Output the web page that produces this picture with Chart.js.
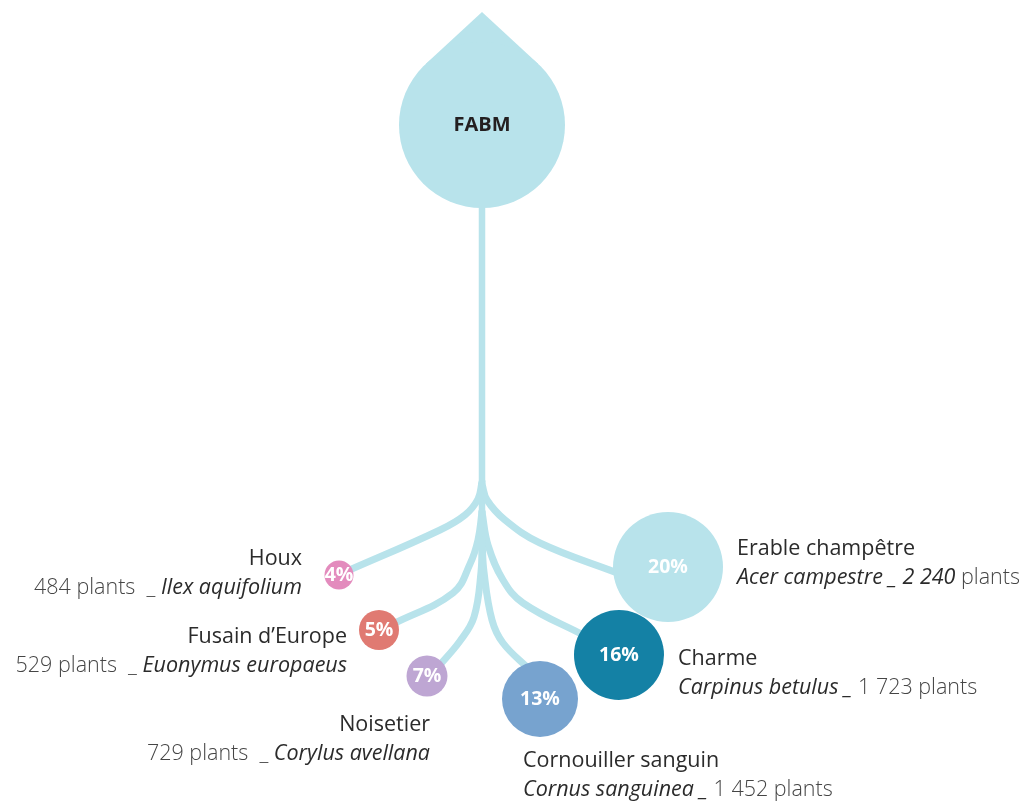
<!DOCTYPE html>
<html>
<head>
<meta charset="utf-8">
<script src="https://cdn.jsdelivr.net/npm/chart.js@4.4.0/dist/chart.umd.min.js"></script>
<style>
  html, body { margin: 0; padding: 0; background: #ffffff; }
  #wrap { width: 1027px; height: 803px; position: relative; }
</style>
</head>
<body>
<div id="wrap"><canvas id="c"></canvas></div>
<script>
// ---------- DATA ----------
const rootLabel = 'FABM';
const species  = ['Houx', 'Fusain d\u2019Europe', 'Noisetier', 'Cornouiller sanguin', 'Charme', 'Erable champêtre'];
const latin    = ['Ilex aquifolium', 'Euonymus europaeus', 'Corylus avellana', 'Cornus sanguinea', 'Carpinus betulus', 'Acer campestre'];
const plants   = [484, 529, 729, 1452, 1723, 2240];
const percents = [4, 5, 7, 13, 16, 20];

// ---------- LAYOUT (positions, sizes, styles) ----------
const W = 1027, H = 803;
const stemColor = '#b8e3eb';
const dropLayout = { x: 482, y: 125, r: 83, tipY: 12 };
const stemPath = [{x: 482, y: 200}, {x: 482, y: 545}];
const bubbleLayout = [
  { x: 339, y: 575, r: 14.5, color: '#e38bbd' },
  { x: 379, y: 630, r: 20,   color: '#e07a72' },
  { x: 427, y: 676, r: 20.5, color: '#bea6d3' },
  { x: 540, y: 699, r: 38,   color: '#77a3cf' },
  { x: 619, y: 655, r: 45,   color: '#1481a5' },
  { x: 668, y: 567, r: 55,   color: '#b8e3eb' }
];
const branchPaths = [
  [{x:482,y:482},{x:478,y:499},{x:465,y:515},{x:440,y:530},{x:345,y:572}],
  [{x:482,y:512},{x:478,y:540},{x:470,y:564},{x:453,y:593},{x:393,y:624}],
  [{x:482,y:540},{x:481,y:572},{x:474,y:617},{x:460,y:641},{x:438,y:667}],
  [{x:482,y:540},{x:484,y:572},{x:492,y:620},{x:503,y:643},{x:530,y:670}],
  [{x:482,y:512},{x:488,y:545},{x:503,y:580},{x:523,y:603},{x:585,y:636}],
  [{x:482,y:484},{x:487,y:500},{x:505,y:520},{x:540,y:543},{x:620,y:574}]
];
// label anchors: side 'L' = right-aligned at x, 'R' = left-aligned at x
const labelLayout = [
  { side: 'L', x: 302, y1: 559, y2: 588 },
  { side: 'L', x: 347, y1: 637, y2: 666 },
  { side: 'L', x: 430, y1: 725, y2: 754 },
  { side: 'R', x: 523, y1: 761, y2: 790 },
  { side: 'R', x: 678, y1: 659, y2: 688 },
  { side: 'R', x: 737, y1: 549, y2: 578 }
];
const FONT = '"Open Sans", Lato, sans-serif';
const TXT = 21.5;
const nameColor = '#2b2b2b';
const lightColor = '#454545';

function fmt(n) { return String(n).replace(/\B(?=(\d{3})+(?!\d))/g, ' '); }

// ---------- DATASETS ----------
const datasets = [];
datasets.push({
  type: 'bubble',
  label: 'species',
  data: bubbleLayout.map((b, i) => ({ x: b.x, y: b.y, r: b.r, v: percents[i] })),
  backgroundColor: bubbleLayout.map(b => b.color),
  borderWidth: 0,
  hoverRadius: 0,
  clip: false,
  order: 0
});
datasets.push({
  type: 'bubble',
  label: 'root',
  data: [{ x: dropLayout.x, y: dropLayout.y, r: dropLayout.r }],
  backgroundColor: stemColor,
  borderWidth: 0,
  hoverRadius: 0,
  clip: false,
  order: 1
});
branchPaths.forEach((p, i) => {
  datasets.push({
    type: 'line',
    label: 'branch ' + species[i],
    data: p,
    borderColor: stemColor,
    borderWidth: 7,
    tension: 0.4,
    pointRadius: 0,
    fill: false,
    clip: false,
    borderCapStyle: 'round',
    order: 2
  });
});
datasets.push({
  type: 'line',
  label: 'stem',
  data: stemPath,
  borderColor: stemColor,
  borderWidth: 6.5,
  pointRadius: 0,
  fill: false,
  clip: false,
  order: 2
});

// ---------- PLUGINS ----------
const dropTip = {
  id: 'dropTip',
  beforeDatasetsDraw(chart) {
    const { ctx, scales: { x, y } } = chart;
    const cx = x.getPixelForValue(dropLayout.x), cy = y.getPixelForValue(dropLayout.y);
    const tx = cx, ty = y.getPixelForValue(dropLayout.tipY);
    const d = cy - ty, r = dropLayout.r;
    const th = Math.acos(r / d);
    const lx = cx - r * Math.sin(th), rx = cx + r * Math.sin(th), ly = cy - r * Math.cos(th);
    ctx.save();
    ctx.fillStyle = stemColor;
    ctx.beginPath();
    ctx.moveTo(tx, ty);
    ctx.lineTo(rx, ly);
    ctx.lineTo(cx, cy);
    ctx.lineTo(lx, ly);
    ctx.closePath();
    ctx.fill();
    ctx.restore();
  }
};

function drawRuns(ctx, runs, x, y, align) {
  let total = 0;
  runs.forEach(r => { ctx.font = r.font; r.w = ctx.measureText(r.text).width; total += r.w; });
  let cx = align === 'right' ? x - total : x;
  runs.forEach(r => {
    ctx.font = r.font; ctx.fillStyle = r.color;
    ctx.textAlign = 'left'; ctx.textBaseline = 'middle';
    ctx.fillText(r.text, cx, y);
    cx += r.w;
  });
}

const labels = {
  id: 'labels',
  afterDatasetsDraw(chart) {
    const { ctx, scales: { x, y } } = chart;
    ctx.save();
    ctx.font = 'bold 20px ' + FONT;
    ctx.fillStyle = '#231f20';
    ctx.textAlign = 'center'; ctx.textBaseline = 'middle';
    ctx.fillText(rootLabel, x.getPixelForValue(dropLayout.x), y.getPixelForValue(dropLayout.y));
    const meta = chart.getDatasetMeta(0);
    meta.data.forEach((el, i) => {
      ctx.font = 'bold 19.5px ' + FONT;
      ctx.fillStyle = '#ffffff';
      ctx.textAlign = 'center'; ctx.textBaseline = 'middle';
      ctx.fillText(percents[i] + '%', el.x, el.y);
    });
    const nameFont = '400 ' + TXT + 'px ' + FONT;
    const lightFont = '300 ' + TXT + 'px ' + FONT;
    const italFont = 'italic 400 ' + TXT + 'px ' + FONT;
    labelLayout.forEach((L, i) => {
      const px = x.getPixelForValue(L.x);
      const y1 = y.getPixelForValue(L.y1), y2 = y.getPixelForValue(L.y2);
      ctx.font = nameFont; ctx.fillStyle = nameColor;
      ctx.textBaseline = 'middle';
      ctx.textAlign = L.side === 'L' ? 'right' : 'left';
      ctx.fillText(species[i], px, y1);
      let runs;
      if (L.side === 'L') {
        runs = [
          { text: fmt(plants[i]) + ' plants  _ ', font: lightFont, color: lightColor },
          { text: latin[i], font: italFont, color: nameColor }
        ];
        drawRuns(ctx, runs, px, y2, 'right');
      } else if (i === 5) {
        runs = [
          { text: latin[i] + ' _ ' + fmt(plants[i]), font: italFont, color: nameColor },
          { text: ' plants', font: lightFont, color: lightColor }
        ];
        drawRuns(ctx, runs, px, y2, 'left');
      } else {
        runs = [
          { text: latin[i] + ' _ ', font: italFont, color: nameColor },
          { text: fmt(plants[i]) + ' plants', font: lightFont, color: lightColor }
        ];
        drawRuns(ctx, runs, px, y2, 'left');
      }
    });
    ctx.restore();
  }
};

new Chart(document.getElementById('c'), {
  data: { datasets },
  options: {
    responsive: true,
    maintainAspectRatio: false,
    animation: false,
    events: [],
    layout: { padding: 0, autoPadding: false },
    plugins: { legend: { display: false }, tooltip: { enabled: false } },
    scales: {
      x: { type: 'linear', min: 0, max: W, display: false },
      y: { type: 'linear', min: 0, max: H, reverse: true, display: false }
    }
  },
  plugins: [dropTip, labels]
});
</script>
</body>
</html>
